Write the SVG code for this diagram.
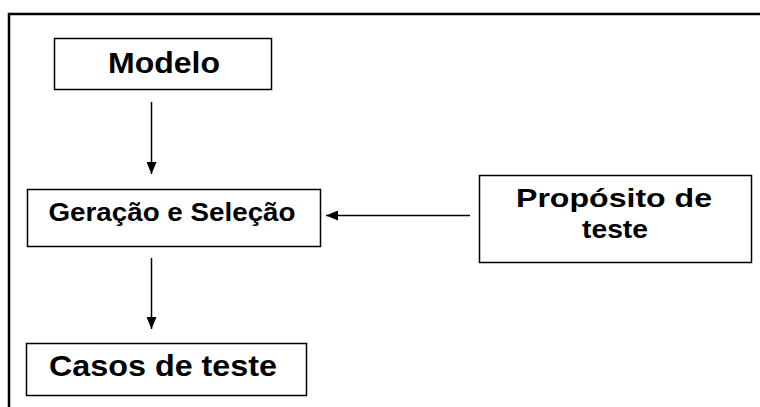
<svg xmlns="http://www.w3.org/2000/svg" width="760" height="407" viewBox="0 0 760 407">
<style>
.box{fill:#fff;stroke:#000;stroke-width:1.5}
.t{font-family:"Liberation Sans",Arial,sans-serif;font-weight:bold;fill:#000;text-anchor:middle}
.c{stroke:#000;stroke-width:1.5;fill:none}
</style>
<defs>
<marker id="ah" viewBox="0 0 12 10" refX="12" refY="5" markerWidth="12" markerHeight="10" markerUnits="userSpaceOnUse" orient="auto">
<path d="M0,0 L12,5 L0,10 z" fill="#000"/>
</marker>
</defs>
<rect x="0" y="0" width="760" height="407" fill="#fff"/>
<path d="M9,407 V14 H760" fill="none" stroke="#000" stroke-width="2.5"/>
<g id="modelo">
<rect class="box" x="54.5" y="38.5" width="217" height="51"/>
<text class="t" x="164" y="73" font-size="29" textLength="112" lengthAdjust="spacingAndGlyphs">Modelo</text>
</g>
<g id="geracao">
<rect class="box" x="27.5" y="189.5" width="293" height="57"/>
<text class="t" x="172" y="221" font-size="25" textLength="247" lengthAdjust="spacingAndGlyphs">Geração e Seleção</text>
</g>
<g id="casos">
<rect class="box" x="26.5" y="343.5" width="280" height="52"/>
<text class="t" x="163" y="376" font-size="30" textLength="228" lengthAdjust="spacingAndGlyphs">Casos de teste</text>
</g>
<g id="proposito">
<rect class="box" x="479.5" y="175.5" width="272" height="87"/>
<text class="t" x="614" y="207" font-size="26" textLength="196" lengthAdjust="spacingAndGlyphs">Propósito de</text>
<text class="t" x="615" y="238" font-size="26" textLength="66" lengthAdjust="spacingAndGlyphs">teste</text>
</g>
<g id="connectors">
<line class="c" x1="151.5" y1="102" x2="151.5" y2="174" marker-end="url(#ah)"/>
<line class="c" x1="151.5" y1="258" x2="151.5" y2="329" marker-end="url(#ah)"/>
<line class="c" x1="470" y1="215.5" x2="326" y2="215.5" marker-end="url(#ah)"/>
</g>
</svg>
